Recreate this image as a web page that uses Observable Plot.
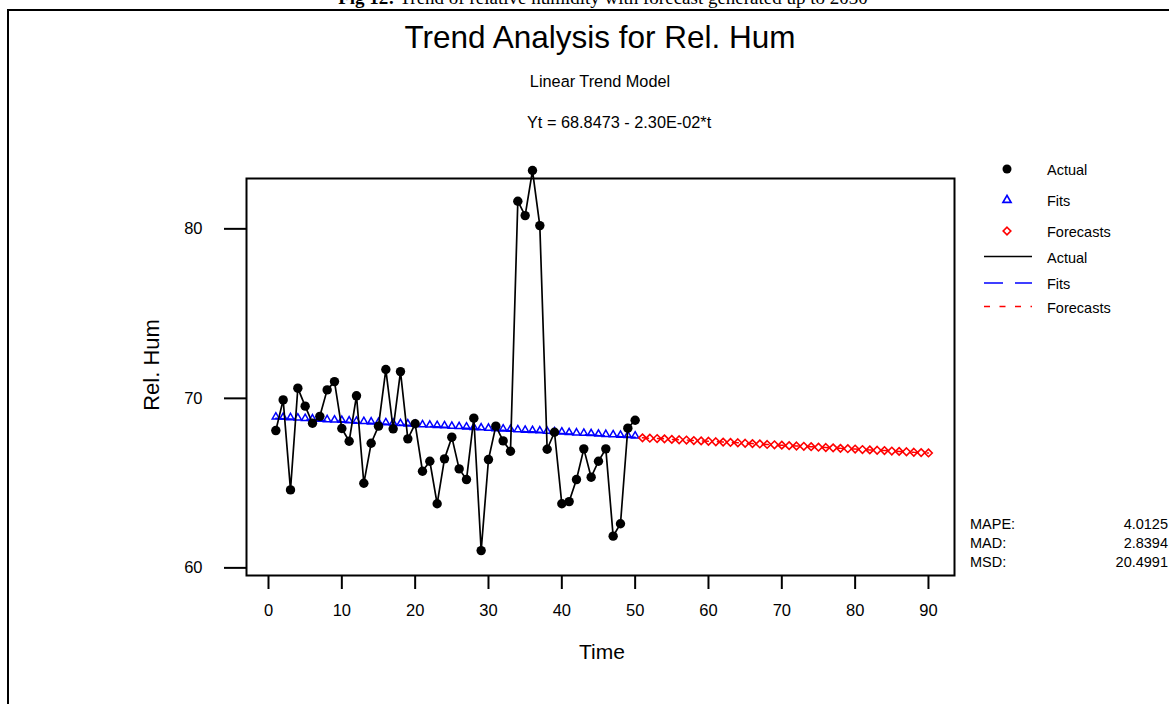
<!DOCTYPE html>
<html>
<head>
<meta charset="utf-8">
<script src="https://cdn.jsdelivr.net/npm/d3@7"></script>
<script src="https://cdn.jsdelivr.net/npm/@observablehq/plot@0.6"></script>
<style>
  body { margin: 0; background: #fff; }
  #wrap { position: relative; width: 1169px; height: 704px; overflow: hidden; background: #fff; }
  #wrap svg { position: absolute; left: 0; top: 0; }
</style>
</head>
<body>
<div id="wrap"></div>
<script>
// ---------- data ----------
const actualValues = [
  68.10, 69.91, 64.60, 70.60, 69.54, 68.53, 68.94, 70.50, 70.99, 68.22,
  67.47, 70.15, 64.99, 67.35, 68.36, 71.70, 68.20, 71.58, 67.61, 68.50,
  65.70, 66.29, 63.78, 66.43, 67.71, 65.84, 65.21, 68.83, 61.02, 66.39,
  68.36, 67.49, 66.88, 81.63, 80.78, 83.44, 80.19, 67.00, 68.00, 63.78,
  63.91, 65.21, 67.02, 65.35, 66.29, 67.02, 61.87, 62.60, 68.24, 68.71
];
const fitValues = [
  68.82, 68.80, 68.78, 68.76, 68.73, 68.71, 68.69, 68.66, 68.64, 68.62,
  68.59, 68.57, 68.55, 68.53, 68.50, 68.48, 68.46, 68.43, 68.41, 68.39,
  68.36, 68.34, 68.32, 68.30, 68.27, 68.25, 68.23, 68.20, 68.18, 68.16,
  68.13, 68.11, 68.09, 68.07, 68.04, 68.02, 68.00, 67.97, 67.95, 67.93,
  67.90, 67.88, 67.86, 67.84, 67.81, 67.79, 67.77, 67.74, 67.72, 67.70
];
const forecastValues = [
  67.67, 67.65, 67.63, 67.61, 67.58, 67.56, 67.54, 67.51, 67.49, 67.47,
  67.44, 67.42, 67.40, 67.38, 67.35, 67.33, 67.31, 67.28, 67.26, 67.24,
  67.21, 67.19, 67.17, 67.15, 67.12, 67.10, 67.08, 67.05, 67.03, 67.01,
  66.98, 66.96, 66.94, 66.92, 66.89, 66.87, 66.85, 66.82, 66.80, 66.78
];
const forecastStart = 51;
const xTicks = [0, 10, 20, 30, 40, 50, 60, 70, 80, 90];
const yTicks = [60, 70, 80];
const statLabels = ["MAPE:", "MAD:", "MSD:"];
const statValues = ["4.0125", "2.8394", "20.4991"];
const legendLabels = ["Actual", "Fits", "Forecasts", "Actual", "Fits", "Forecasts"];

const caption = "Trend of relative humidity with forecast generated up to 2030";
const captionPrefix = "Fig 12:";
const titleText = "Trend Analysis for Rel. Hum";
const subtitleText = "Linear Trend Model";
const equationText = "Yt = 68.8473 - 2.30E-02*t";

// ---------- tables ----------
const actual = actualValues.map((v, i) => ({t: i + 1, v}));
const fits = fitValues.map((v, i) => ({t: i + 1, v}));
const forecasts = forecastValues.map((v, i) => ({t: forecastStart + i, v}));

const FONT = "'Liberation Sans', Arial, Helvetica, sans-serif";
const BLUE = "#0000ff", RED = "#ff0000";

const chart = Plot.plot({
  width: 1169,
  height: 704,
  marginLeft: 246,
  marginRight: 215,
  marginTop: 178,
  marginBottom: 129,
  style: {fontFamily: FONT, fontSize: "16px", color: "#000", background: "transparent", overflow: "visible"},
  x: {domain: [-3, 93.55]},
  y: {domain: [59.55, 82.97]},
  marks: [
    Plot.axisX({ticks: xTicks, tickSize: 14, tickPadding: 15, fontSize: 16.5, label: null, strokeWidth: 2}),
    Plot.axisY({ticks: yTicks, tickSize: 22, tickPadding: 22, fontSize: 16.5, label: null, strokeWidth: 2}),
    Plot.frame({stroke: "#000", strokeWidth: 2}),
    Plot.line(fits, {x: "t", y: "v", stroke: BLUE, strokeWidth: 1.6, strokeDasharray: "19,12"}),
    Plot.line(forecasts, {x: "t", y: "v", stroke: RED, strokeWidth: 1.5, strokeDasharray: "6,9"}),
    Plot.dot(fits, {x: "t", y: "v", symbol: "triangle", r: 2.7, stroke: BLUE, strokeWidth: 1.5, fill: "none", dy: -1.5}),
    Plot.dot(forecasts, {x: "t", y: "v", symbol: "diamond2", r: 3.4, stroke: RED, strokeWidth: 1.6, fill: "none"}),
    Plot.line(actual, {x: "t", y: "v", stroke: "#000", strokeWidth: 1.7}),
    Plot.dot(actual, {x: "t", y: "v", r: 4.7, fill: "#000", stroke: "none"})
  ]
});

const wrap = document.getElementById("wrap");

// decorations: outer border, caption, titles, legend, statistics
const ov = d3.create("svg").attr("width", 1169).attr("height", 704)
  .attr("font-family", FONT).style("overflow", "hidden");

ov.append("rect").attr("x", 8).attr("y", 10).attr("width", 1300).attr("height", 800)
  .attr("fill", "none").attr("stroke", "#000").attr("stroke-width", 2);

const cap = ov.append("text").attr("x", 603).attr("y", 3.5).attr("text-anchor", "middle")
  .attr("font-family", "'Liberation Serif', 'Times New Roman', serif").attr("font-size", 19);
cap.append("tspan").attr("font-weight", "bold").text(captionPrefix + " ");
cap.append("tspan").text(caption);

ov.append("text").attr("x", 600).attr("y", 37).attr("dy", "0.35em").attr("text-anchor", "middle")
  .attr("font-size", 31.5).text(titleText);
ov.append("text").attr("x", 600).attr("y", 81).attr("dy", "0.35em").attr("text-anchor", "middle")
  .attr("font-size", 16.3).text(subtitleText);
ov.append("text").attr("x", 527).attr("y", 122).attr("dy", "0.35em").attr("text-anchor", "start")
  .attr("font-size", 16.3).text(equationText);

// axis titles
ov.append("text").attr("transform", "translate(151,365) rotate(-90)").attr("dy", "0.35em")
  .attr("text-anchor", "middle").attr("font-size", 22).text("Rel. Hum");
ov.append("text").attr("x", 602).attr("y", 652).attr("dy", "0.35em").attr("text-anchor", "middle")
  .attr("font-size", 21).text("Time");

// legend
const lg = ov.append("g");
const symX = 1007, txtX = 1047;
const rowsY = [170, 201, 232, 257.5, 284, 307.5];
lg.append("circle").attr("cx", symX).attr("cy", rowsY[0] - 1).attr("r", 4.5).attr("fill", "#000");
lg.append("path").attr("transform", `translate(${symX},${rowsY[1] - 1})`)
  .attr("d", d3.symbol(d3.symbolTriangle, 28)()).attr("fill", "none").attr("stroke", BLUE).attr("stroke-width", 1.7);
lg.append("path").attr("transform", `translate(${symX},${rowsY[2] - 1})`)
  .attr("d", d3.symbol(d3.symbolDiamond2, 36)()).attr("fill", "none").attr("stroke", RED).attr("stroke-width", 1.7);
lg.append("line").attr("x1", 984).attr("x2", 1032).attr("y1", rowsY[3] - 1).attr("y2", rowsY[3] - 1)
  .attr("stroke", "#000").attr("stroke-width", 1.7);
lg.append("line").attr("x1", 984).attr("x2", 1032).attr("y1", rowsY[4] - 1).attr("y2", rowsY[4] - 1)
  .attr("stroke", BLUE).attr("stroke-width", 1.7).attr("stroke-dasharray", "19,12");
lg.append("line").attr("x1", 984).attr("x2", 1032).attr("y1", rowsY[5] - 1).attr("y2", rowsY[5] - 1)
  .attr("stroke", RED).attr("stroke-width", 1.7).attr("stroke-dasharray", "6,9.5");
legendLabels.forEach((s, i) => {
  lg.append("text").attr("x", txtX).attr("y", rowsY[i]).attr("dy", "0.35em")
    .attr("font-size", 14.5).text(s);
});

// statistics
const statY = [524, 543, 562];
statLabels.forEach((s, i) => {
  ov.append("text").attr("x", 970).attr("y", statY[i]).attr("dy", "0.35em").attr("font-size", 14.5).text(s);
  ov.append("text").attr("x", 1168).attr("y", statY[i]).attr("dy", "0.35em").attr("font-size", 14.5)
    .attr("text-anchor", "end").text(statValues[i]);
});

wrap.appendChild(ov.node());
wrap.appendChild(chart);
</script>
</body>
</html>
